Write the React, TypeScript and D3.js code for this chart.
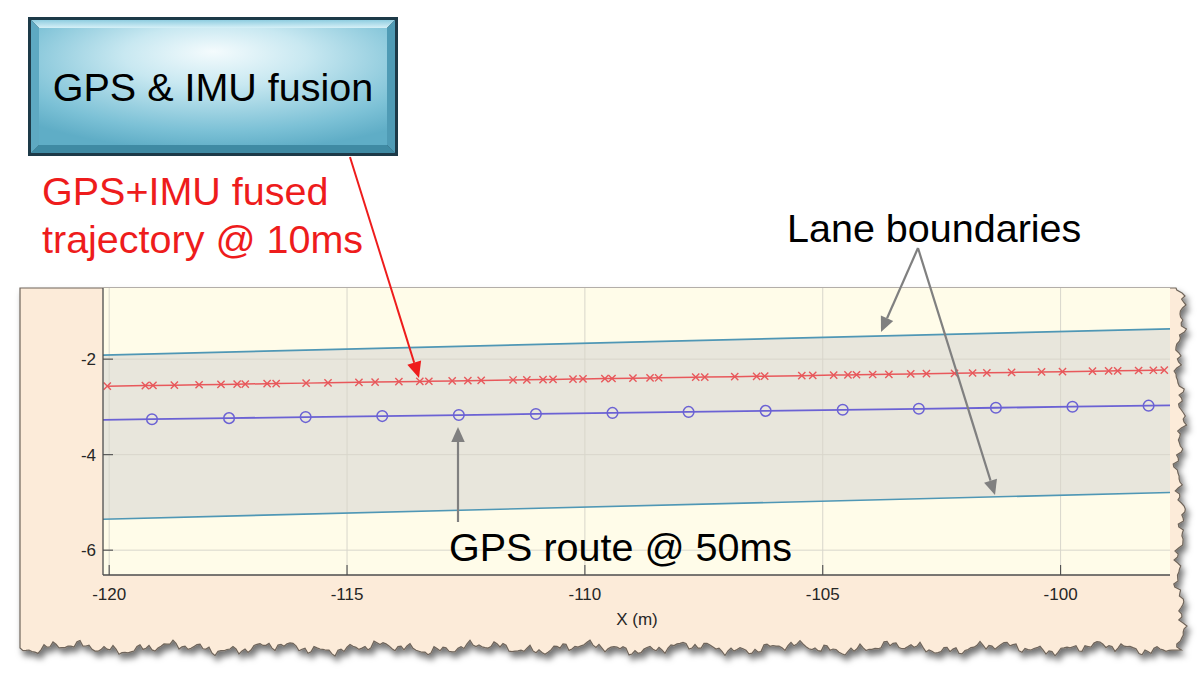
import React from "react";
import * as d3 from "d3";

// ---- data ----
const xTicks = [-120, -115, -110, -105, -100];
const yTicks = [-2, -4, -6];

// lane boundaries (left/right ends of visible segment)
const laneX = [-120.13, -97.7];
const laneUpperY = [-1.916, -1.365];
const laneLowerY = [-5.351, -4.792];

// GPS+IMU fused trajectory @ 10ms (x markers)
const fusedX = [
  -120.04, -119.24, -119.08, -118.63, -118.11, -117.65, -117.31, -117.14, -116.68, -116.49,
  -115.86, -115.4, -114.75, -114.41, -113.91, -113.47, -113.28, -112.79, -112.46, -112.18,
  -111.51, -111.22, -110.88, -110.67, -110.25, -110.04, -109.58, -109.43, -108.99, -108.63,
  -108.45, -107.67, -107.48, -106.85, -106.39, -106.22, -105.44, -105.21, -104.77, -104.47,
  -104.29, -103.95, -103.61, -103.15, -102.82, -102.23, -101.85, -101.55, -101.03, -100.4,
  -99.96, -99.33, -98.99, -98.8, -98.36, -98.05, -97.82,
];
const fusedY = [
  -2.565, -2.553, -2.55, -2.544, -2.536, -2.529, -2.524, -2.521, -2.514, -2.511,
  -2.502, -2.495, -2.485, -2.48, -2.472, -2.466, -2.463, -2.456, -2.451, -2.446,
  -2.436, -2.432, -2.427, -2.424, -2.417, -2.414, -2.407, -2.405, -2.398, -2.393,
  -2.39, -2.378, -2.375, -2.366, -2.359, -2.356, -2.345, -2.341, -2.334, -2.33,
  -2.327, -2.322, -2.317, -2.31, -2.305, -2.296, -2.29, -2.286, -2.278, -2.268,
  -2.262, -2.252, -2.247, -2.244, -2.238, -2.233, -2.229,
];

// GPS route @ 50ms (circle markers); first/last samples fall outside the view
const gpsX = [
  -120.71, -119.1, -117.48, -115.87, -114.26, -112.65, -111.03, -109.42, -107.82, -106.2,
  -104.58, -102.98, -101.36, -99.75, -98.15, -96.54,
];
const gpsY = [
  -3.279, -3.257, -3.235, -3.213, -3.192, -3.17, -3.148, -3.126, -3.105, -3.083,
  -3.061, -3.04, -3.018, -2.996, -2.974, -2.952,
];

const FONT = "'Liberation Sans', Arial, Helvetica, sans-serif";

// plot geometry
const PL = 103, PR = 1170, PT = 288, PB = 575;
const x = d3.scaleLinear().domain([-120.13, -97.7]).range([PL, PR]);
const y = d3.scaleLinear().domain([-6.52, -0.51]).range([PB, PT]);

function tornPanelPath(): string {
  // deterministic jagged edge (decoration)
  const n = (t: number, a: number) =>
    Math.sin(t * 0.21 + a) * 2.2 + Math.sin(t * 0.53 + a * 2) * 1.6 + Math.sin(t * 1.37 + a * 3) * 1.1 + Math.sin(t * 0.061 + a) * 2.5;
  const pts: [number, number][] = [];
  pts.push([20, 288]);
  pts.push([1176, 288]);
  for (let yy = 290; yy <= 652; yy += 3) {
    pts.push([1180 + n(yy, 1.3) * 1.1, yy]);
  }
  for (let xx = 1172; xx >= 22; xx -= 3) {
    pts.push([xx, 648 + n(xx, 0.4) * 1.2]);
  }
  pts.push([20, 648]);
  return "M" + pts.map((p) => p[0].toFixed(1) + "," + p[1].toFixed(1)).join("L") + "Z";
}

function Arrow({ x1, y1, x2, y2, color, w = 2, head = 14 }: any) {
  const ang = Math.atan2(y2 - y1, x2 - x1);
  const hw = head * 0.45;
  const bx = x2 - Math.cos(ang) * head;
  const by = y2 - Math.sin(ang) * head;
  const px = -Math.sin(ang) * hw;
  const py = Math.cos(ang) * hw;
  return (
    <g>
      <line x1={x1} y1={y1} x2={bx} y2={by} stroke={color} strokeWidth={w} />
      <path d={`M${x2},${y2}L${bx + px},${by + py}L${bx - px},${by - py}Z`} fill={color} />
    </g>
  );
}

export default function App() {
  const upperLine = d3.line<number>().x((d) => x(d)).y((_, i) => y(laneUpperY[i]));
  const lowerLine = d3.line<number>().x((d) => x(d)).y((_, i) => y(laneLowerY[i]));
  const band =
    d3
      .area<number>()
      .x((d) => x(d))
      .y0((_, i) => y(laneLowerY[i]))
      .y1((_, i) => y(laneUpperY[i]))(laneX) || "";
  const fusedLine = d3.line<number>().x((d) => x(d)).y((_, i) => y(fusedY[i]))(fusedX) || "";
  const gpsLine = d3.line<number>().x((d) => x(d)).y((_, i) => y(gpsY[i]))(gpsX) || "";

  // box geometry
  const bx0 = 28, by0 = 17, bx1 = 398, by1 = 156;
  const f = 3; // dark frame
  const bv = 8; // bevel
  const ix0 = bx0 + f, iy0 = by0 + f, ix1 = bx1 - f, iy1 = by1 - f;
  const fx0 = ix0 + bv, fy0 = iy0 + bv, fx1 = ix1 - bv, fy1 = iy1 - bv;

  return (
    <svg
      width={1200}
      height={681}
      style={{ position: "absolute", left: 0, top: 0, display: "block", background: "#fff" }}
      fontFamily={FONT}
    >
      <defs>
        <filter id="shadow" x="-5%" y="-5%" width="115%" height="120%">
          <feDropShadow dx="3" dy="5" stdDeviation="3" floodColor="#000" floodOpacity="0.55" />
        </filter>
        <clipPath id="plotClip">
          <rect x={PL} y={PT} width={PR - PL} height={PB - PT} />
        </clipPath>
        <radialGradient id="boxGrad" cx="0.52" cy="0.3" r="0.75" fx="0.5" fy="0.2">
          <stop offset="0" stopColor="#f4fbfd" />
          <stop offset="0.35" stopColor="#c8e8f1" />
          <stop offset="0.8" stopColor="#7cc1d6" />
          <stop offset="1" stopColor="#5fadc6" />
        </radialGradient>
        <linearGradient id="topBevel" x1="0" y1="0" x2="0" y2="1">
          <stop offset="0" stopColor="#8fcde0" />
          <stop offset="1" stopColor="#d6f0f7" />
        </linearGradient>
      </defs>

      {/* torn paper panel */}
      <path d={tornPanelPath()} fill="#fcebd9" stroke="#6f655b" strokeWidth={1.2} filter="url(#shadow)" />

      {/* plot background */}
      <rect x={PL} y={PT} width={PR - PL} height={PB - PT} fill="#fffce9" />
      <g clipPath="url(#plotClip)">
        <path d={band} fill="#e8e6dc" />
        {/* grid */}
        {xTicks.map((t) => (
          <line key={"gx" + t} x1={x(t)} x2={x(t)} y1={PT} y2={PB} stroke="#d8d6cb" strokeWidth={1} />
        ))}
        {yTicks.map((t) => (
          <line key={"gy" + t} x1={PL} x2={PR} y1={y(t)} y2={y(t)} stroke="#d8d6cb" strokeWidth={1} />
        ))}
        {/* lanes */}
        <path d={upperLine(laneX) || ""} fill="none" stroke="#4f97b5" strokeWidth={1.6} />
        <path d={lowerLine(laneX) || ""} fill="none" stroke="#4f97b5" strokeWidth={1.6} />
        {/* fused trajectory */}
        <path d={fusedLine} fill="none" stroke="#e8585b" strokeWidth={1.5} />
        {fusedX.map((d, i) => {
          const cx = x(d), cy = y(fusedY[i]);
          const s = 3.6;
          return (
            <path
              key={"fx" + i}
              d={`M${cx - s},${cy - s}L${cx + s},${cy + s}M${cx - s},${cy + s}L${cx + s},${cy - s}`}
              stroke="#e8585b"
              strokeWidth={1.4}
            />
          );
        })}
        {/* GPS route */}
        <path d={gpsLine} fill="none" stroke="#6b62d4" strokeWidth={1.8} />
        {gpsX.map((d, i) => (
          <circle key={"gc" + i} cx={x(d)} cy={y(gpsY[i])} r={5.3} fill="none" stroke="#6b62d4" strokeWidth={1.5} />
        ))}
      </g>

      {/* axes */}
      <line x1={PL} x2={PL} y1={PT} y2={PB} stroke="#4d4d4d" strokeWidth={1.3} />
      <line x1={PL} x2={PR} y1={PB} y2={PB} stroke="#4d4d4d" strokeWidth={1.3} />
      {xTicks.map((t) => (
        <g key={"xt" + t}>
          <line x1={x(t)} x2={x(t)} y1={PB} y2={PB - 10} stroke="#4d4d4d" strokeWidth={1.1} />
          <text x={x(t)} y={600} textAnchor="middle" fontSize={17} fill="#262626">
            {String(t).replace("-", "-")}
          </text>
        </g>
      ))}
      {yTicks.map((t) => (
        <g key={"yt" + t}>
          <line x1={PL} x2={PL + 10} y1={y(t)} y2={y(t)} stroke="#4d4d4d" strokeWidth={1.1} />
          <text x={96} y={y(t) + 6} textAnchor="end" fontSize={17} fill="#262626">
            {String(t)}
          </text>
        </g>
      ))}
      <text x={637} y={625} textAnchor="middle" fontSize={17} fill="#262626">
        X (m)
      </text>

      {/* title box */}
      <rect x={bx0} y={by0} width={bx1 - bx0} height={by1 - by0} fill="#1d3a48" />
      {/* bevels */}
      <path d={`M${ix0},${iy0}L${ix1},${iy0}L${fx1},${fy0}L${fx0},${fy0}Z`} fill="url(#topBevel)" />
      <path d={`M${ix0},${iy1}L${ix1},${iy1}L${fx1},${fy1}L${fx0},${fy1}Z`} fill="#3f8aa3" />
      <path d={`M${ix0},${iy0}L${fx0},${fy0}L${fx0},${fy1}L${ix0},${iy1}Z`} fill="#5ea9c2" />
      <path d={`M${ix1},${iy0}L${fx1},${fy0}L${fx1},${fy1}L${ix1},${iy1}Z`} fill="#4f9bb5" />
      <rect x={fx0} y={fy0} width={fx1 - fx0} height={fy1 - fy0} fill="url(#boxGrad)" />
      <text x={(bx0 + bx1) / 2} y={101} textAnchor="middle" fontSize={39.5} fill="#000">
        GPS &amp; IMU fusion
      </text>

      {/* annotations */}
      <text x={42} y={205} fontSize={39.5} fill="#ee1c1c">
        GPS+IMU fused
      </text>
      <text x={42} y={253} fontSize={39.5} fill="#ee1c1c">
        trajectory @ 10ms
      </text>
      <Arrow x1={350} y1={157} x2={419} y2={378} color="#ee1c1c" w={2} head={16} />

      <text x={787} y={242} fontSize={39.5} fill="#000">
        Lane boundaries
      </text>
      <Arrow x1={918} y1={248} x2={881} y2={332} color="#808080" w={2.2} head={15} />
      <Arrow x1={918} y1={248} x2={995} y2={495} color="#808080" w={2.2} head={15} />

      <text x={449} y={561} fontSize={39.5} fill="#000">
        GPS route @ 50ms
      </text>
      <Arrow x1={458} y1={522} x2={458} y2={427} color="#808080" w={2.2} head={15} />
    </svg>
  );
}
